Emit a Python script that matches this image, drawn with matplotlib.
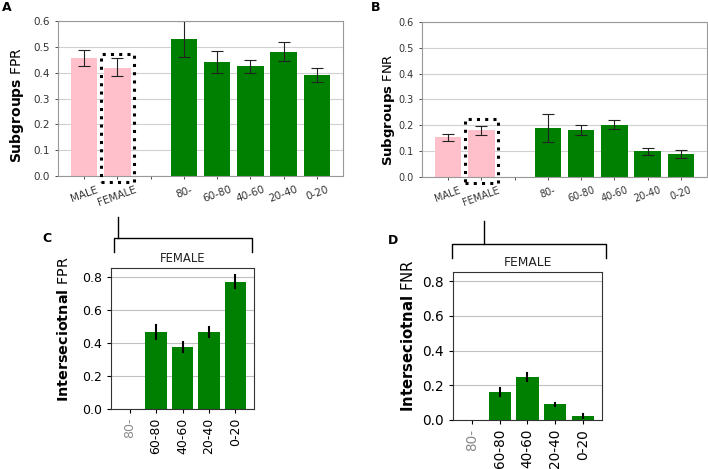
import matplotlib
matplotlib.use("Agg")
import matplotlib.pyplot as plt
from matplotlib.patches import Rectangle
import numpy as np

# ---- data ----
sub_labels = ["MALE", "FEMALE", "", "80-", "60-80", "40-60", "20-40", "0-20"]
sub_colors = ["pink", "pink", "none", "green", "green", "green", "green", "green"]

fpr_vals = [0.455, 0.420, 0.0, 0.530, 0.441, 0.424, 0.481, 0.392]
fpr_lo = [0.424, 0.387, 0.0, 0.462, 0.397, 0.398, 0.444, 0.365]
fpr_hi = [0.486, 0.455, 0.0, 0.600, 0.485, 0.449, 0.517, 0.420]

fnr_vals = [0.155, 0.180, 0.0, 0.190, 0.183, 0.203, 0.100, 0.089]
fnr_lo = [0.141, 0.162, 0.0, 0.137, 0.163, 0.187, 0.087, 0.073]
fnr_hi = [0.168, 0.198, 0.0, 0.245, 0.203, 0.220, 0.114, 0.106]

int_labels = ["80-", "60-80", "40-60", "20-40", "0-20"]
int_fpr = [0.0, 0.464, 0.372, 0.466, 0.770]
int_fpr_lo = [0.0, 0.420, 0.344, 0.436, 0.732]
int_fpr_hi = [0.0, 0.507, 0.404, 0.498, 0.808]

int_fnr = [0.0, 0.161, 0.248, 0.090, 0.023]
int_fnr_lo = [0.0, 0.140, 0.225, 0.083, 0.010]
int_fnr_hi = [0.0, 0.186, 0.271, 0.098, 0.035]

fig = plt.figure(figsize=(7.08, 4.69), dpi=100)

TICKC = "#333333"


def sub_panel(rect, vals, lo, hi, ylab, box_top, tfs, lfs, lab_xy):
    ax = fig.add_axes(rect)
    x = np.arange(len(vals))
    ax.set_axisbelow(True)
    ax.yaxis.grid(True, color="#d0d0d0", lw=0.8)
    for i in range(len(vals)):
        if sub_labels[i] == "":
            continue
        ax.bar(x[i], vals[i], width=0.8, color=sub_colors[i])
        ax.errorbar(x[i], vals[i],
                    yerr=[[vals[i] - lo[i]], [hi[i] - vals[i]]],
                    color="#222222", lw=0.8, capsize=4, capthick=0.8)
    ax.set_xlim(-0.78, 7.78)
    ax.set_ylim(0, 0.6)
    ax.set_yticks(np.arange(0, 0.61, 0.1))
    ax.set_yticklabels([f"{v:.1f}" for v in np.arange(0, 0.61, 0.1)])
    ax.set_xticks(x)
    ax.set_xticklabels(sub_labels, rotation=20)
    ax.tick_params(axis="both", labelsize=tfs, colors=TICKC, length=2.5,
                   width=0.6)
    for s in ax.spines.values():
        s.set_color("#999999")
        s.set_linewidth(0.8)
    ax.set_ylabel(r"$\bf{Subgroups}$ " + ylab, fontsize=lfs)
    ax.yaxis.set_label_coords(*lab_xy)
    r = Rectangle((0.5, -0.023), 1.0, box_top + 0.023, fill=False,
                  ec="black", lw=2.2, ls=(0, (1, 1.7)), clip_on=False,
                  zorder=5)
    ax.add_patch(r)
    return ax


axA = sub_panel([0.0819, 0.6247, 0.4026, 0.3305], fpr_vals, fpr_lo, fpr_hi,
                "FPR", 0.472, 7.5, 10, (-0.112, 0.458))
axB = sub_panel([0.596, 0.6226, 0.4026, 0.3305], fnr_vals, fnr_lo, fnr_hi,
                "FNR", 0.223, 7.0, 9.5, (-0.088, 0.432))


def int_panel(rect, vals, lo, hi, ylab, bl, br, tick_frac, bracket_y,
              bracket_drop, stem_top, tfs, lfs, ttfs, lab_xy):
    ax = fig.add_axes(rect)
    x = np.arange(len(vals))
    ax.set_axisbelow(True)
    ax.yaxis.grid(True, color="#c0c0c0", lw=0.8)
    ax.bar(x, vals, width=0.8, color="green")
    for i in range(len(vals)):
        if vals[i] == 0:
            continue
        ax.plot([x[i], x[i]], [lo[i], hi[i]], color="black", lw=1.5)
    ax.set_xlim(-0.7, 4.7)
    ax.set_ylim(0, 0.852)
    ax.set_yticks([0.0, 0.2, 0.4, 0.6, 0.8])
    ax.set_xticks(x)
    ax.set_xticklabels(int_labels, rotation=90)
    ax.get_xticklabels()[0].set_color("#888888")
    ax.tick_params(axis="both", labelsize=tfs, length=3, width=0.8)
    for s in ax.spines.values():
        s.set_color("#333333")
        s.set_linewidth(0.8)
    ax.set_ylabel(r"$\bf{Interseciotnal}$ " + ylab, fontsize=lfs)
    ax.yaxis.set_label_coords(*lab_xy)
    ax.set_title("FEMALE", fontsize=ttfs, color="#222222", pad=4)
    # bracket
    tr = ax.transAxes
    ax.plot([bl, bl, br, br],
            [bracket_y - bracket_drop, bracket_y, bracket_y,
             bracket_y - bracket_drop],
            color="black", lw=1.0, transform=tr, clip_on=False)
    ax.plot([tick_frac, tick_frac], [bracket_y, stem_top], color="black",
            lw=1.0, transform=tr, clip_on=False)
    return ax


axC = int_panel([0.1568, 0.128, 0.202, 0.3006], int_fpr, int_fpr_lo,
                int_fpr_hi, "FPR", 0.02, 0.986, 0.049, 1.213, 0.10, 1.362,
                9.0, 10.4, 8.4, (-0.280, 0.567))
axD = int_panel([0.6398, 0.1045, 0.2105, 0.3155], int_fnr, int_fnr_lo,
                int_fnr_hi, "FNR", -0.007, 1.027, 0.208, 1.189, 0.095, 1.345,
                9.8, 10.7, 8.8, (-0.249, 0.567))

fig.text(0.003, 0.998, "A", fontsize=9, fontweight="bold", va="top")
fig.text(0.524, 0.998, "B", fontsize=9, fontweight="bold", va="top")
fig.text(0.060, 0.4925, "C", fontsize=9, fontweight="bold", va="center")
fig.text(0.548, 0.488, "D", fontsize=9, fontweight="bold", va="center")

fig.savefig("out.png", dpi=100)
